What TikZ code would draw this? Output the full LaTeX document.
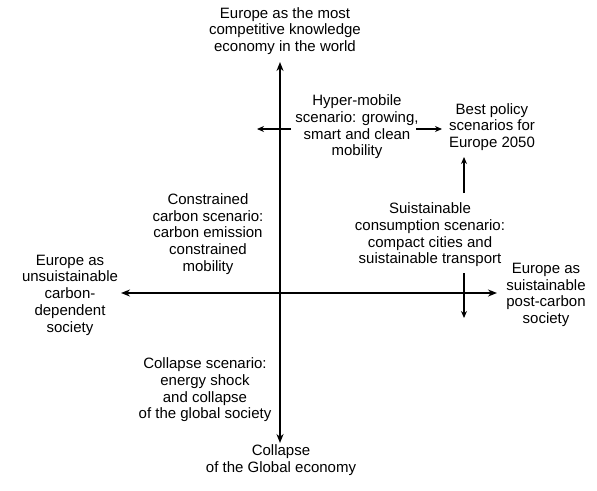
\documentclass[tikz,border=0pt]{standalone}
\usepackage{fontspec}
\setmainfont{Liberation Sans}
\usetikzlibrary{arrows.meta}
\tikzset{
  lbl/.style={align=center,inner sep=0pt,font=\fontsize{15}{16.7}\selectfont},
  axis/.style={line width=1.8pt,-{Stealth[length=9pt,width=7pt]}},
  small/.style={line width=1.1pt,-{Stealth[length=7pt,width=6pt]}}
}
\begin{document}
\begin{tikzpicture}[x=1pt,y=-1pt]
\useasboundingbox (0,0) rectangle (597,490);

% axes
\coordinate (vtop) at (280,62);
\coordinate (vbot) at (280,443);
\coordinate (vmid) at (280,293);
\coordinate (hleft) at (121,293);
\coordinate (hright) at (497,293);
\draw [axis] (vmid)--(vtop);
\draw [axis] (vmid)--(vbot);
\draw [axis] (vmid)--(hleft);
\draw [axis] (vmid)--(hright);

% small crosses
\coordinate (hm1) at (291,129);
\coordinate (hm2) at (257,129);
\draw [small] (hm1)--(hm2);
\coordinate (bp1) at (416,129);
\coordinate (bp2) at (442,129);
\draw [small] (bp1)--(bp2);
\coordinate (sc1) at (464,193);
\coordinate (sc2) at (464,157);
\draw [small] (sc1)--(sc2);
\coordinate (sd1) at (464,273);
\coordinate (sd2) at (464,318);
\draw [small] (sd1)--(sd2);

% labels
\node [lbl] (top) at (285,31) {Europe as the most\\competitive knowledge\\economy in the world};
\node [lbl] (hyper) at (357,127) {Hyper-mobile\\scenario: growing,\\smart and clean\\mobility};
\node [lbl] (best) at (492,127) {Best policy\\scenarios for\\Europe 2050};
\node [lbl] (constr) at (208,234) {Constrained\\carbon scenario:\\carbon emission\\constrained\\mobility};
\node [lbl] (suist) at (430,235) {Suistainable\\consumption scenario:\\compact cities and\\suistainable transport};
\node [lbl] (postc) at (546,295) {Europe as\\suistainable\\post-carbon\\society};
\node [lbl] (unsuist) at (70,295) {Europe as\\unsuistainable\\carbon-\\dependent\\society};
\node [lbl] (collapse) at (205,390) {Collapse scenario:\\energy shock\\and collapse\\of the global society};
\node [lbl] (bottom) at (281,460) {Collapse\\of the Global economy};

\end{tikzpicture}
\end{document}
